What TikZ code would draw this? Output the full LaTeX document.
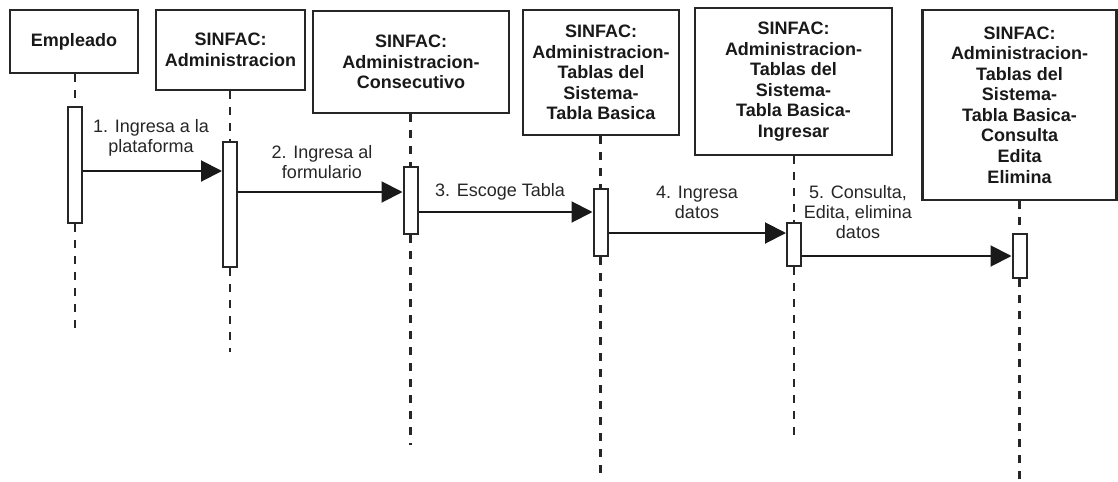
\documentclass[tikz,border=0pt]{standalone}
\usepackage{fontspec}
\setmainfont{Liberation Sans}
\usetikzlibrary{arrows.meta}
\begin{document}
\begin{tikzpicture}[x=0.75pt,y=-0.75pt,
  objbox/.style={draw=black!85, line width=1.8pt, fill=white, align=center,
    inner sep=0pt, font=\fontsize{13.5}{15.4}\selectfont\bfseries, text=black!90},
  actbar/.style={draw=black!85, line width=1.5pt, fill=white,
    minimum width=10.5pt, inner sep=0pt},
  lifeline/.style={draw=black!85, line width=1.7pt, dash pattern=on 6pt off 6pt},
  msg/.style={draw=black!90, line width=1.5pt,
    -{Triangle[length=15.75pt,width=15.75pt]}},
  msglabel/.style={align=center, inner sep=0pt,
    font=\fontsize{13.5}{15}\selectfont, text=black!85}]

\useasboundingbox (0,0) rectangle (1118,482);

% participants
\node[objbox, minimum width=96pt, minimum height=47.25pt] (B1) at (74,41.5) {Empleado};
\node[objbox, minimum width=111.75pt, minimum height=60pt] (B2) at (230.5,50)
  {SINFAC:\\Administracion};
\node[objbox, minimum width=147pt, minimum height=76.5pt] (B3) at (411,62)
  {SINFAC:\\Administracion-\\Consecutivo};
\node[objbox, minimum width=117pt, minimum height=93.75pt] (B4) at (601,72.5)
  {SINFAC:\\Administracion-\\Tablas del\\Sistema-\\Tabla Basica};
\node[objbox, minimum width=147.75pt, minimum height=110.25pt] (B5) at (793.5,81.5)
  {SINFAC:\\Administracion-\\Tablas del\\Sistema-\\Tabla Basica-\\Ingresar};
\node[objbox, minimum width=145.5pt, minimum height=142.5pt] (B6) at (1019.5,105)
  {SINFAC:\\Administracion-\\Tablas del\\Sistema-\\Tabla Basica-\\Consulta\\Edita\\Elimina};

% activation bars
\node[actbar, minimum height=87pt]    (A1) at (75,165) {};
\node[actbar, minimum height=93.75pt] (A2) at (230,204.5) {};
\node[actbar, minimum height=50.25pt] (A3) at (410.5,200.5) {};
\node[actbar, minimum height=50.25pt] (A4) at (600.5,222.5) {};
\node[actbar, minimum height=32.25pt] (A5) at (794,244.5) {};
\node[actbar, minimum height=33pt]    (A6) at (1019.5,256) {};

% lifeline ends
\coordinate (E1) at (75,335);
\coordinate (E2) at (230,352);
\coordinate (E3) at (410.5,445);
\coordinate (E4) at (600.5,480);
\coordinate (E5) at (794,438);
\coordinate (E6) at (1019.5,482);

% lifelines
\foreach \i in {1,...,6}{
  \draw[lifeline] (A\i.north |- B\i.south) -- (A\i.north);
  \draw[lifeline] (A\i.south) -- (E\i);
}

% message levels
\coordinate (m1) at (0,171);
\coordinate (m2) at (0,192);
\coordinate (m3) at (0,212);
\coordinate (m4) at (0,233);
\coordinate (m5) at (0,256);

% messages
\draw[msg] (A1.east |- m1) -- (A2.west |- m1);
\draw[msg] (A2.east |- m2) -- (A3.west |- m2);
\draw[msg] (A3.east |- m3) -- (A4.west |- m3);
\draw[msg] (A4.east |- m4) -- (A5.west |- m4);
\draw[msg] (A5.east |- m5) -- (A6.west |- m5);

% message labels
\node[msglabel] (L1) at (151,138) {1. Ingresa a la\\plataforma};
\node[msglabel] (L2) at (322,162) {2. Ingresa al\\formulario};
\node[msglabel] (L3) at (500,192) {3. Escoge Tabla};
\node[msglabel] (L4) at (697,202) {4. Ingresa\\datos};
\node[msglabel] (L5) at (858,212.5) {5. Consulta,\\Edita, elimina\\datos};

\end{tikzpicture}
\end{document}
